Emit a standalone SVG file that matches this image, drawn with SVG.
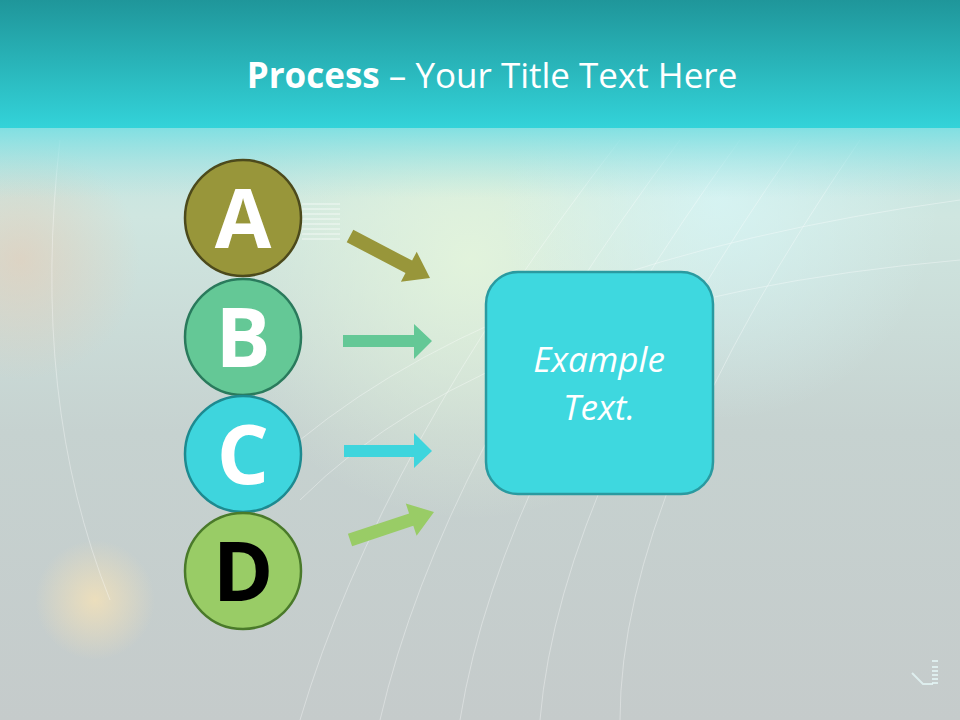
<svg xmlns="http://www.w3.org/2000/svg" width="960" height="720" viewBox="0 0 960 720">
<defs>
<linearGradient id="hdr" x1="0" y1="0" x2="0" y2="1">
<stop offset="0" stop-color="#1f969a"/>
<stop offset="1" stop-color="#33d3d9"/>
</linearGradient>
<linearGradient id="band" x1="0" y1="0" x2="0" y2="1">
<stop offset="0" stop-color="#7adfe2" stop-opacity="0.9"/>
<stop offset="1" stop-color="#a5e3e3" stop-opacity="0"/>
</linearGradient>
<linearGradient id="body" x1="0" y1="0" x2="0" y2="1">
<stop offset="0" stop-color="#a5e3e3"/>
<stop offset="0.3" stop-color="#cfe6e0"/>
<stop offset="0.6" stop-color="#c6d2d0"/>
<stop offset="1" stop-color="#c5cbcb"/>
</linearGradient>
<radialGradient id="glow1" cx="470" cy="260" r="260" gradientUnits="userSpaceOnUse">
<stop offset="0" stop-color="#e4f5dc" stop-opacity="0.9"/>
<stop offset="1" stop-color="#e4f5dc" stop-opacity="0"/>
</radialGradient>
<radialGradient id="glow2" cx="720" cy="200" r="220" gradientUnits="userSpaceOnUse">
<stop offset="0" stop-color="#d8f6f6" stop-opacity="0.8"/>
<stop offset="1" stop-color="#d8f6f6" stop-opacity="0"/>
</radialGradient>
<radialGradient id="glow3" cx="95" cy="600" r="60" gradientUnits="userSpaceOnUse">
<stop offset="0" stop-color="#f5e2b8" stop-opacity="0.8"/>
<stop offset="1" stop-color="#f5e2b8" stop-opacity="0"/>
</radialGradient>
<radialGradient id="glow4" cx="20" cy="260" r="120" gradientUnits="userSpaceOnUse">
<stop offset="0" stop-color="#e9c8b0" stop-opacity="0.55"/>
<stop offset="1" stop-color="#e9c8b0" stop-opacity="0"/>
</radialGradient>
<style>
.lt{font-family:"Open Sans","Liberation Sans",sans-serif;font-weight:bold;font-size:82px;text-anchor:middle}
.deco{fill:none;stroke:#ffffff;stroke-opacity:0.35;stroke-width:1}
.bt{font-family:"Open Sans","Liberation Sans",sans-serif;font-style:italic;font-size:35px;text-anchor:middle;fill:#ffffff}
</style>
</defs>
<rect width="960" height="720" fill="url(#body)"/>
<rect width="960" height="720" fill="url(#glow1)"/>
<rect width="960" height="720" fill="url(#glow2)"/>
<rect width="960" height="720" fill="url(#glow3)"/>
<rect width="960" height="720" fill="url(#glow4)"/>
<g class="deco">
<path d="M300 720 Q380 450 620 140"/>
<path d="M380 720 Q440 460 680 140"/>
<path d="M460 720 Q500 470 740 140"/>
<path d="M540 720 Q560 480 800 140"/>
<path d="M620 720 Q620 490 860 140"/>
<path d="M60 140 Q30 400 110 600"/>
<path d="M300 500 Q500 300 960 260"/>
<path d="M300 440 Q520 260 960 200"/>
</g>
<g fill="#ffffff" fill-opacity="0.35">
<rect x="302" y="203" width="38" height="2"/>
<rect x="302" y="208" width="38" height="2"/>
<rect x="302" y="213" width="38" height="2"/>
<rect x="302" y="218" width="38" height="2"/>
<rect x="302" y="223" width="38" height="2"/>
<rect x="302" y="228" width="38" height="2"/>
<rect x="302" y="233" width="38" height="2"/>
<rect x="302" y="238" width="38" height="2"/>
</g>
<g fill="none" stroke="#e4f6f6" stroke-opacity="0.8" stroke-width="2">
<path d="M912 673 L923 684 L933 684"/>
<path d="M932 661 h6 M932 667 h6 M932 671 h6 M932 675 h6 M932 679 h6 M932 683 h6"/>
</g>
<rect width="960" height="128" fill="url(#hdr)"/>
<rect y="128" width="960" height="70" fill="url(#band)"/>
<text x="492" y="88" text-anchor="middle" fill="#ffffff" font-family="'Open Sans','Liberation Sans',sans-serif" font-size="35"><tspan font-weight="bold">Process</tspan> – Your Title Text Here</text>
<g id="connectors">
<polygon id="arrowA" points="353.3,229.8 412.1,260.6 416.7,251.8 430,278 400.9,281.8 405.5,273 346.7,242.2" fill="#98963a"/>
<polygon id="arrowB" points="343,335 414,335 414,324 432,341 414,359 414,347 343,347" fill="#64c896"/>
<polygon id="arrowC" points="344,445 414,445 414,433 432,451 414,468 414,457 344,457" fill="#3ed5dd"/>
<polygon id="arrowD" points="347.9,533.8 409.1,513.4 405.8,503.5 434,512 416.6,535.7 413.3,525.8 352.1,546.2" fill="#99cc66"/>
</g>
<g id="nodeA"><circle cx="243" cy="218" r="58" fill="#98963a" stroke="#4c4a1c" stroke-width="2.5"/><text class="lt" x="243" y="248" fill="#ffffff">A</text></g>
<g id="nodeB"><circle cx="243" cy="337" r="58" fill="#64c896" stroke="#2a7a5c" stroke-width="2.5"/><text class="lt" x="243" y="367" fill="#ffffff">B</text></g>
<g id="nodeC"><circle cx="243" cy="454" r="58" fill="#3ed5dd" stroke="#1d8a90" stroke-width="2.5"/><text class="lt" x="243" y="484" fill="#ffffff">C</text></g>
<g id="nodeD"><circle cx="243" cy="571" r="58" fill="#99cc66" stroke="#4a7a2a" stroke-width="2.5"/><text class="lt" x="243" y="601" fill="#000000">D</text></g>
<g id="box">
<rect x="486" y="272" width="227" height="222" rx="32" fill="#3ed8df" stroke="#2a9aa0" stroke-width="2.5"/>
<text class="bt" x="599" y="372">Example</text>
<text class="bt" x="599" y="420">Text.</text>
</g>
</svg>
